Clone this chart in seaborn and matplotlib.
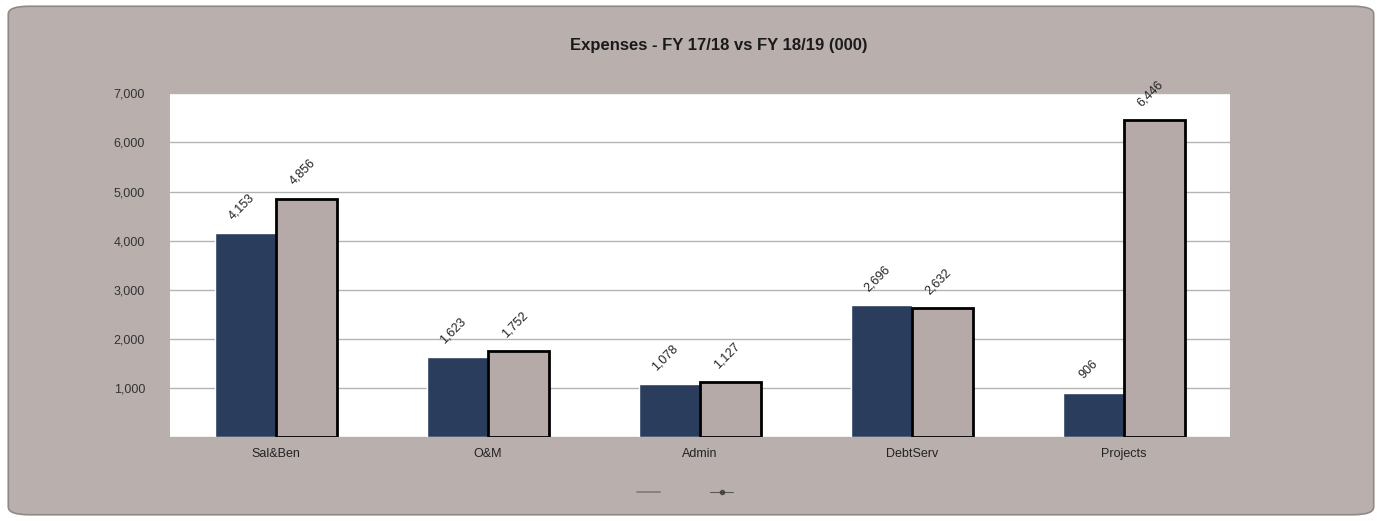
import pandas as pd
import matplotlib.pyplot as plt
import seaborn as sns
from matplotlib.patches import FancyBboxPatch
from matplotlib.lines import Line2D

# -------------------------------
# DATA
# -------------------------------
categories = ["Sal&Ben", "O&M", "Admin", "DebtServ", "Projects"]
fy1718 = [4153, 1623, 1078, 2696, 906]
fy1819 = [4856, 1752, 1127, 2632, 6446]
series = ["FY 17/18", "FY 18/19"]
yticks = [0, 1000, 2000, 3000, 4000, 5000, 6000, 7000]

BG = "#b9b0ae"
NAVY = "#2a3d5c"
GRAY = "#b5aaa8"

df = pd.DataFrame({
    "category": categories * 2,
    "series": [series[0]] * len(categories) + [series[1]] * len(categories),
    "value": fy1718 + fy1819,
})

# -------------------------------
# PLOT
# -------------------------------
sns.set_theme(style="white")
plt.rcParams["font.family"] = ["Liberation Sans", "DejaVu Sans"]

fig = plt.figure(figsize=(13.82, 5.21), dpi=100)
fig.patch.set_facecolor("white")
frame = FancyBboxPatch((0.006, 0.012), 0.988, 0.976,
                       boxstyle="round,pad=0,rounding_size=0.015",
                       transform=fig.transFigure, facecolor=BG,
                       edgecolor="#8f8886", linewidth=1.2, zorder=-10)
fig.add_artist(frame)

ax = fig.add_axes([0.123, 0.161, 0.767, 0.660])
ax.set_zorder(1)
sns.barplot(data=df, x="category", y="value", hue="series",
            palette=[NAVY, GRAY], width=0.58, ax=ax, legend=False,
            saturation=1)

# second series gets a black outline
for bar in ax.containers[1]:
    bar.set_edgecolor("black")
    bar.set_linewidth(2)

for cont in ax.containers:
    for bar in cont:
        h = bar.get_height()
        ax.annotate(f"{h:,.0f}", (bar.get_x() + bar.get_width() / 2, h),
                    xytext=(-3, 8), textcoords="offset points",
                    rotation=45, ha="center", va="bottom", fontsize=9,
                    color="#222222", annotation_clip=False)

ax.set_ylim(0, 7000)
ax.set_yticks(yticks)
ax.set_yticklabels(["" if v == 0 else f"{v:,}" for v in yticks], fontsize=9,
                   color="#333333")
ax.tick_params(axis="x", labelsize=9, colors="#222222", length=0, pad=8)
ax.tick_params(axis="y", length=0, pad=18)
ax.yaxis.grid(True, color="#b4b4b4", linewidth=1)
ax.set_axisbelow(True)
ax.set_xlabel("")
ax.set_ylabel("")
ax.set_facecolor("white")
for s in ax.spines.values():
    s.set_visible(False)

fig.text(0.52, 0.913, "Expenses - FY 17/18 vs FY 18/19 (000)",
         ha="center", va="center", fontsize=12, fontweight="bold",
         color="#1a1a1a")

# faint legend at the bottom
handles = [Line2D([0], [0], color="#555555", linewidth=1.2, alpha=0.6),
           Line2D([0], [0], color="#333333", marker="o", markersize=3,
                  linewidth=0.8, alpha=0.7)]
leg = fig.legend(handles, ["", ""], loc="center", bbox_to_anchor=(0.5, 0.053),
                 ncol=2, frameon=False, handlelength=1.5, columnspacing=2.5)

fig.savefig("out.png", dpi=100)
